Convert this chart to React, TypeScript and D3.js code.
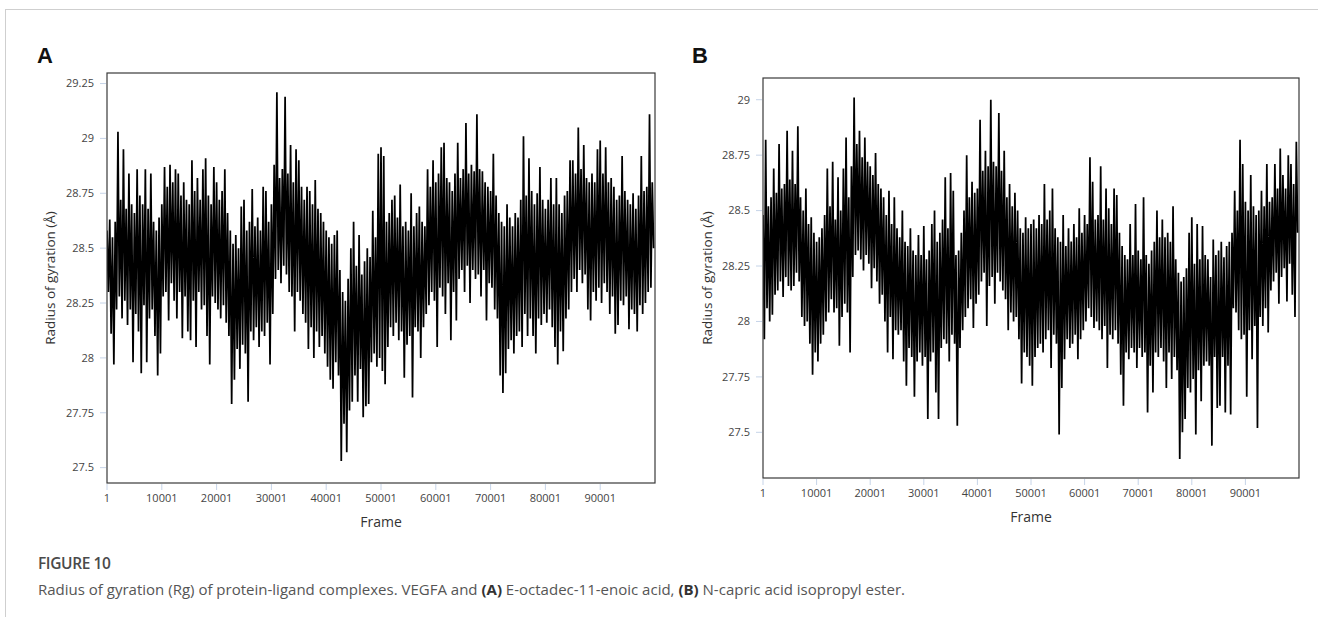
import React from 'react';
import * as d3 from 'd3';

// Sampling step (frames) between consecutive read values
const FRAME_STEP = 250;

// Panel A: VEGFA + E-octadec-11-enoic acid, radius of gyration (Å)
const rgA = [
  28.58, 28.30, 28.63, 28.11, 28.55, 27.97, 28.62, 28.22, 29.03, 28.28,
  28.72, 28.18, 28.95, 28.26, 28.68, 28.15, 28.84, 28.22, 28.70, 27.98,
  28.66, 28.20, 28.86, 28.12, 28.74, 27.93, 28.70, 28.24, 28.86, 27.98,
  28.68, 28.18, 28.84, 28.22, 28.62, 28.10, 28.58, 27.92, 28.64, 28.02,
  28.70, 28.28, 28.87, 28.30, 28.78, 28.17, 28.88, 28.34, 28.80, 28.26,
  28.86, 28.18, 28.84, 28.30, 28.74, 28.09, 28.80, 28.28, 28.72, 28.12,
  28.70, 28.08, 28.90, 28.26, 28.76, 28.05, 28.82, 28.30, 28.72, 28.22,
  28.86, 28.24, 28.91, 28.10, 28.74, 27.97, 28.70, 28.28, 28.87, 28.25,
  28.80, 28.22, 28.72, 28.18, 28.76, 28.24, 28.86, 28.16, 28.66, 28.10,
  28.58, 27.79, 28.52, 27.90, 28.56, 28.04, 28.50, 27.95, 28.69, 28.06,
  28.72, 28.02, 28.58, 27.80, 28.62, 28.12, 28.77, 28.08, 28.60, 28.14,
  28.64, 28.05, 28.58, 28.12, 28.78, 28.10, 28.76, 28.16, 28.62, 27.97,
  28.70, 28.20, 28.88, 28.36, 29.21, 28.40, 28.82, 28.34, 28.86, 28.42,
  29.19, 28.38, 28.84, 28.30, 28.97, 28.28, 28.80, 28.12, 28.95, 28.30,
  28.90, 28.26, 28.78, 28.20, 28.72, 28.16, 28.78, 28.04, 28.76, 28.14,
  28.70, 28.00, 28.81, 28.12, 28.68, 28.05, 28.66, 28.10, 28.62, 28.02,
  28.58, 27.96, 28.55, 27.90, 28.52, 27.86, 28.56, 27.98, 28.58, 27.92,
  28.40, 27.53, 28.30, 27.70, 28.26, 27.57, 28.36, 27.76, 28.50, 27.80,
  28.62, 27.92, 28.42, 27.80, 28.56, 27.95, 28.38, 27.73, 28.44, 27.78,
  28.50, 27.79, 28.46, 27.98, 28.67, 28.02, 28.55, 27.96, 28.93, 28.00,
  28.96, 27.94, 28.92, 27.88, 28.62, 28.05, 28.66, 28.14, 28.72, 28.10,
  28.74, 28.16, 28.64, 28.08, 28.79, 28.12, 28.60, 27.91, 28.62, 28.06,
  28.58, 28.10, 28.75, 27.82, 28.60, 28.14, 28.66, 28.12, 28.69, 28.00,
  28.62, 28.14, 28.60, 28.20, 28.86, 28.24, 28.78, 28.30, 28.90, 28.26,
  28.80, 28.05, 28.84, 28.32, 28.96, 28.28, 28.98, 28.20, 28.82, 28.34,
  28.80, 28.08, 28.76, 28.30, 28.84, 28.17, 28.98, 28.36, 28.82, 28.40,
  28.86, 28.30, 29.07, 28.42, 28.84, 28.25, 28.88, 28.40, 28.85, 28.36,
  29.11, 28.38, 28.86, 28.28, 28.85, 28.40, 28.80, 28.17, 28.78, 28.34,
  28.76, 28.32, 28.93, 28.22, 28.74, 28.18, 28.66, 27.92, 28.62, 27.84,
  28.60, 27.93, 28.70, 28.04, 28.64, 28.08, 28.60, 28.02, 28.66, 28.10,
  28.64, 28.12, 28.72, 28.05, 29.01, 28.20, 28.74, 28.10, 28.91, 28.18,
  28.76, 28.10, 28.70, 28.02, 28.75, 28.18, 28.87, 28.15, 28.72, 28.20,
  28.68, 28.16, 28.72, 28.22, 28.82, 28.14, 28.70, 28.05, 28.82, 27.97,
  28.70, 28.12, 28.66, 28.03, 28.74, 28.18, 28.76, 28.22, 28.90, 28.30,
  28.90, 28.36, 28.84, 28.30, 29.05, 28.40, 28.86, 28.34, 28.97, 28.38,
  28.82, 28.22, 28.80, 28.17, 28.84, 28.30, 28.80, 28.26, 28.95, 28.32,
  28.99, 28.25, 28.84, 28.34, 28.96, 28.30, 28.80, 28.20, 28.82, 28.28,
  28.78, 28.11, 28.72, 28.15, 28.74, 28.26, 28.92, 28.24, 28.76, 28.28,
  28.72, 28.13, 28.70, 28.22, 28.75, 28.20, 28.68, 28.12, 28.74, 28.24,
  28.92, 28.20, 28.76, 28.25, 28.78, 28.30, 29.11, 28.32, 28.80, 28.50,
];

// Panel B: VEGFA + N-capric acid isopropyl ester, radius of gyration (Å)
const rgB = [
  28.48, 27.92, 28.82, 28.06, 28.52, 28.00, 28.56, 28.03, 28.69, 28.12,
  28.58, 28.14, 28.80, 28.18, 28.60, 28.11, 28.62, 28.20, 28.86, 28.16,
  28.64, 28.14, 28.77, 28.16, 28.62, 28.22, 28.88, 28.18, 28.56, 28.02,
  28.50, 27.98, 28.60, 28.00, 28.44, 27.90, 28.47, 27.76, 28.40, 27.86,
  28.36, 27.82, 28.38, 27.90, 28.42, 27.94, 28.48, 28.00, 28.69, 28.04,
  28.52, 28.10, 28.72, 28.04, 28.46, 28.06, 28.65, 27.89, 28.50, 28.02,
  28.69, 28.08, 28.83, 28.04, 28.56, 27.86, 28.70, 28.20, 29.01, 28.30,
  28.80, 28.32, 28.86, 28.28, 28.74, 28.23, 28.83, 28.30, 28.72, 28.26,
  28.70, 28.15, 28.66, 28.24, 28.76, 28.18, 28.62, 28.08, 28.60, 28.12,
  28.56, 28.00, 28.48, 27.86, 28.59, 28.02, 28.44, 27.83, 28.56, 27.96,
  28.42, 27.94, 28.38, 27.96, 28.50, 27.82, 28.36, 27.71, 28.34, 27.88,
  28.42, 27.84, 28.32, 27.66, 28.30, 27.82, 28.39, 27.86, 28.30, 27.80,
  28.43, 27.84, 28.28, 27.56, 28.32, 27.82, 28.44, 27.86, 28.50, 27.68,
  28.36, 27.56, 28.40, 27.88, 28.46, 27.92, 28.65, 27.90, 28.42, 27.82,
  28.67, 27.94, 28.59, 27.90, 28.30, 27.53, 28.32, 27.88, 28.40, 27.96,
  28.50, 28.02, 28.75, 28.06, 28.56, 28.10, 28.63, 27.97, 28.58, 28.08,
  28.60, 28.12, 28.91, 28.18, 28.68, 28.22, 28.77, 27.98, 28.70, 28.16,
  29.00, 28.20, 28.72, 28.08, 28.70, 28.22, 28.94, 28.18, 28.68, 28.14,
  28.77, 28.10, 28.56, 27.96, 28.62, 28.04, 28.52, 28.00, 28.58, 28.02,
  28.50, 27.92, 28.42, 27.72, 28.40, 27.86, 28.47, 27.84, 28.42, 27.80,
  28.44, 27.71, 28.46, 27.84, 28.42, 27.88, 28.48, 27.90, 28.44, 27.86,
  28.62, 27.92, 28.46, 27.96, 28.50, 27.79, 28.60, 27.94, 28.42, 27.90,
  28.38, 27.49, 28.36, 27.70, 28.48, 27.83, 28.34, 27.92, 28.42, 27.88,
  28.36, 27.90, 28.44, 27.94, 28.38, 27.83, 28.51, 27.92, 28.40, 27.96,
  28.48, 28.00, 28.44, 28.06, 28.74, 28.02, 28.63, 27.97, 28.46, 28.00,
  28.48, 27.96, 28.70, 27.92, 28.46, 27.98, 28.60, 27.79, 28.51, 27.94,
  28.44, 27.92, 28.60, 27.96, 28.57, 27.90, 28.40, 27.76, 28.34, 27.62,
  28.30, 27.86, 28.28, 27.83, 28.44, 27.88, 28.30, 27.86, 28.53, 27.79,
  28.32, 27.88, 28.28, 27.84, 28.56, 27.86, 28.30, 27.59, 28.26, 27.80,
  28.32, 27.68, 28.36, 27.86, 28.50, 27.84, 28.38, 27.88, 28.46, 27.82,
  28.38, 27.70, 28.40, 27.86, 28.36, 27.74, 28.52, 27.84, 28.28, 27.78,
  28.22, 27.38, 28.18, 27.50, 28.20, 27.56, 28.24, 27.70, 28.40, 27.68,
  28.47, 27.74, 28.26, 27.49, 28.44, 27.78, 28.28, 27.64, 28.43, 27.80,
  28.30, 27.82, 28.28, 27.80, 28.20, 27.44, 28.37, 27.84, 28.30, 27.61,
  28.32, 27.62, 28.36, 27.84, 28.29, 27.59, 28.34, 27.80, 28.36, 27.58,
  28.40, 28.06, 28.59, 28.04, 28.50, 27.96, 28.82, 27.92, 28.71, 27.94,
  28.54, 27.66, 28.50, 27.96, 28.66, 27.83, 28.52, 27.98, 28.48, 27.52,
  28.50, 28.02, 28.59, 27.98, 28.52, 28.06, 28.71, 27.95, 28.54, 28.14,
  28.56, 28.18, 28.71, 28.22, 28.60, 28.08, 28.78, 28.20, 28.66, 28.24,
  28.60, 28.09, 28.75, 28.26, 28.71, 28.12, 28.62, 28.02, 28.81, 28.40,
];

const xTickValues = [1, 10001, 20001, 30001, 40001, 50001, 60001, 70001, 80001, 90001];
const xDomain = [1, 100000];
const yTicksA = [27.5, 27.75, 28, 28.25, 28.5, 28.75, 29, 29.25];
const yTicksB = [27.5, 27.75, 28, 28.25, 28.5, 28.75, 29];
const yDomainA = [27.43, 29.298];
const yDomainB = [27.294, 29.098];

const figureLabel = 'FIGURE 10';
const captionText = 'Radius of gyration (Rg) of protein-ligand complexes. VEGFA and ';

const TICK_FONT = "'Open Sans', 'Noto Sans', sans-serif";
const TICK_COLOR = '#444';
const TICK_LINE = '#c6d4e8';

type Box = { x0: number; x1: number; y0: number; y1: number };

function Panel(props: {
  id: string;
  letter: string;
  letterX: number;
  data: number[];
  yTicks: number[];
  yDomain: number[];
  box: Box;
  yLabelX: number;
}) {
  const { id, letter, letterX, data, yTicks, yDomain, box, yLabelX } = props;
  const x = d3.scaleLinear().domain(xDomain).range([box.x0, box.x1]);
  const y = d3.scaleLinear().domain(yDomain).range([box.y1, box.y0]);
  const line = d3
    .line<number>()
    .x((_, i) => x(1 + i * FRAME_STEP))
    .y((d) => y(d));
  const path = line(data) || '';
  const midX = (box.x0 + box.x1) / 2;
  const midY = (box.y0 + box.y1) / 2;
  return (
    <g>
      <text x={letterX} y={63} fontFamily="'Liberation Sans', Arial, sans-serif" fontWeight="bold" fontSize={22} fill="#111">
        {letter}
      </text>
      <defs>
        <clipPath id={`clip-${id}`}>
          <rect x={box.x0} y={box.y0} width={box.x1 - box.x0} height={box.y1 - box.y0} />
        </clipPath>
      </defs>
      {yTicks.map((t) => (
        <g key={`y${t}`}>
          <line x1={box.x0 - 7} x2={box.x0 - 1} y1={y(t)} y2={y(t)} stroke={TICK_LINE} strokeWidth={1} />
          <text x={box.x0 - 13} y={y(t)} dy="0.35em" textAnchor="end" fontFamily={TICK_FONT} fontSize={11} fill={TICK_COLOR}>
            {String(t)}
          </text>
        </g>
      ))}
      {xTickValues.map((t) => (
        <g key={`x${t}`}>
          <line x1={x(t)} x2={x(t)} y1={box.y1 + 1} y2={box.y1 + 7} stroke={TICK_LINE} strokeWidth={1} />
          <text x={x(t)} y={box.y1 + 15} dy="0.35em" textAnchor="middle" fontFamily={TICK_FONT} fontSize={11} fill={TICK_COLOR}>
            {String(t)}
          </text>
        </g>
      ))}
      <path d={path} fill="none" stroke="#000" strokeWidth={1.75} strokeLinejoin="bevel" clipPath={`url(#clip-${id})`} />
      <rect x={box.x0} y={box.y0} width={box.x1 - box.x0} height={box.y1 - box.y0} fill="none" stroke="#3a3a3a" strokeWidth={1.2} />
      <text
        x={yLabelX}
        y={midY}
        transform={`rotate(-90 ${yLabelX} ${midY})`}
        textAnchor="middle"
        dy="0.35em"
        fontFamily={TICK_FONT}
        fontSize={13.5}
        fill="#333"
      >
        Radius of gyration (Å)
      </text>
      <text x={midX} y={box.y1 + 39} dy="0.35em" textAnchor="middle" fontFamily={TICK_FONT} fontSize={14} fill="#333">
        Frame
      </text>
    </g>
  );
}

export default function App() {
  return (
    <svg
      width={1318}
      height={617}
      style={{ position: 'absolute', left: 0, top: 0, background: '#fff' }}
      xmlns="http://www.w3.org/2000/svg"
    >
      <rect x={0} y={0} width={1318} height={617} fill="#fff" />
      <line x1={5} x2={1318} y1={9.5} y2={9.5} stroke="#cfcfcf" strokeWidth={1} />
      <line x1={5.5} x2={5.5} y1={9} y2={617} stroke="#cfcfcf" strokeWidth={1} />
      <Panel
        id="A"
        letter="A"
        letterX={37}
        data={rgA}
        yTicks={yTicksA}
        yDomain={yDomainA}
        box={{ x0: 107, x1: 655, y0: 73, y1: 483 }}
        yLabelX={50}
      />
      <Panel
        id="B"
        letter="B"
        letterX={692}
        data={rgB}
        yTicks={yTicksB}
        yDomain={yDomainB}
        box={{ x0: 763, x1: 1299, y0: 78, y1: 478 }}
        yLabelX={707}
      />
      <text x={38} y={569} fontFamily="'Open Sans', 'Noto Sans', sans-serif" fontSize={15.5} fontWeight={600} fill="#4a4a4a" letterSpacing={-0.4}>
        {figureLabel}
      </text>
      <text x={38} y={595} fontFamily="'Open Sans', 'Noto Sans', sans-serif" fontSize={14} fill="#555" textLength={867} lengthAdjust="spacingAndGlyphs">
        {captionText}
        <tspan fontWeight="bold" fill="#333">(A)</tspan>
        {' E-octadec-11-enoic acid, '}
        <tspan fontWeight="bold" fill="#333">(B)</tspan>
        {' N-capric acid isopropyl ester.'}
      </text>
    </svg>
  );
}
